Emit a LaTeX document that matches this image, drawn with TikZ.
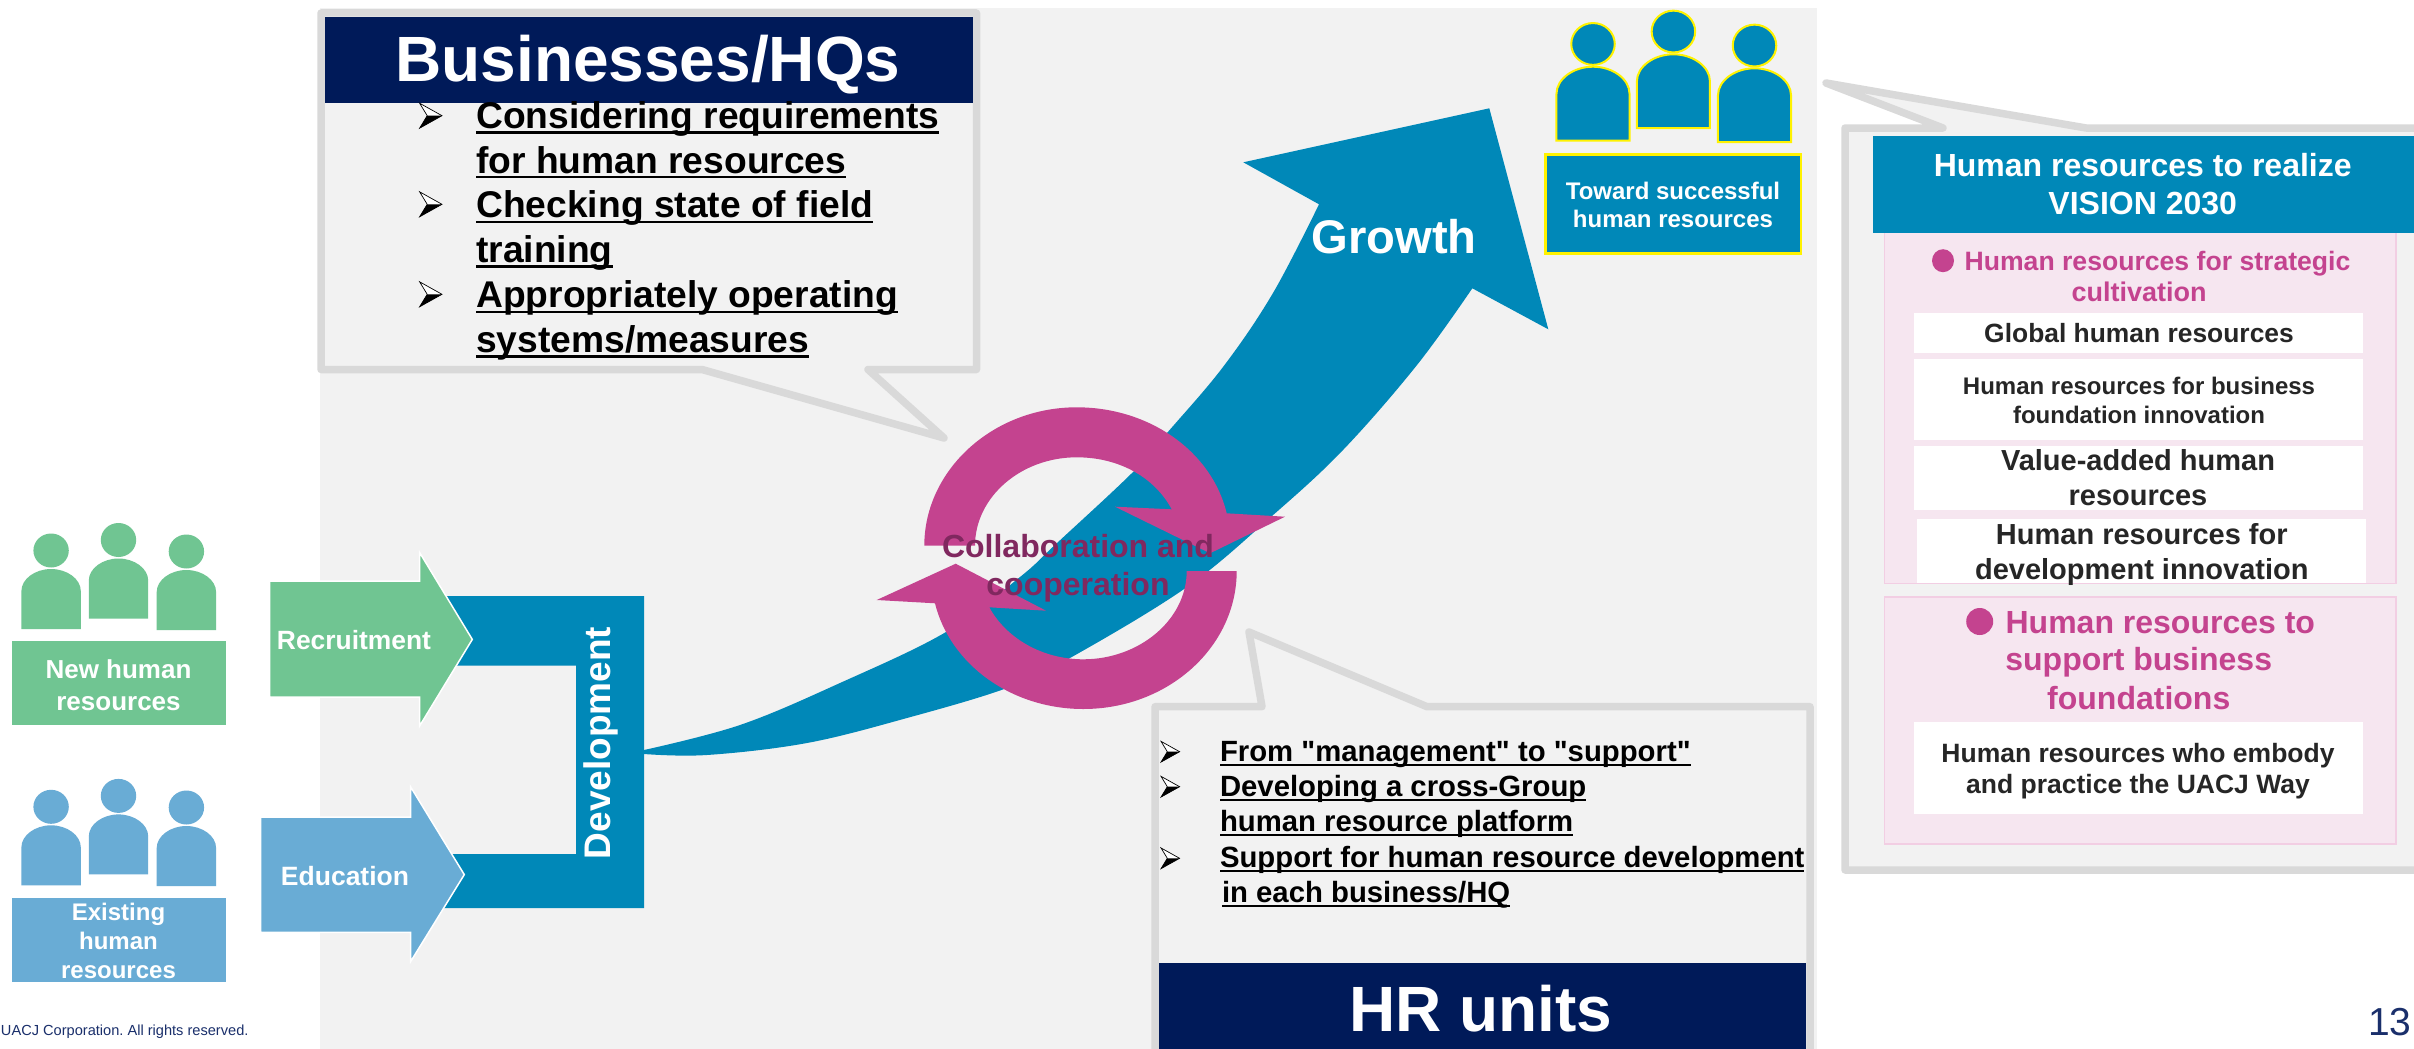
\documentclass[tikz,border=0pt]{standalone}
\usepackage{fontspec}
\setmainfont{Liberation Sans}[Ligatures=TeXOff]
\frenchspacing
\definecolor{teal}{HTML}{0088B8}
\definecolor{grn}{HTML}{70C592}
\definecolor{sky}{HTML}{69ACD5}
\definecolor{mag}{HTML}{C4438F}
\definecolor{dmag}{HTML}{80285F}
\definecolor{navy}{HTML}{001A59}
\definecolor{edge}{HTML}{D9D9D9}
\definecolor{panel}{HTML}{F2F2F2}
\definecolor{pinkf}{HTML}{F6E6F0}
\definecolor{pinkb}{HTML}{F2CEE3}
\definecolor{ink}{HTML}{262626}
\definecolor{foot}{HTML}{1A2F6B}
\newcommand\fs[2]{\fontsize{#1}{#2}\selectfont}
\newcommand\ulx[1]{\leavevmode\setbox0\hbox{#1}\rlap{\raisebox{-5pt}{\rule{\wd0}{2.4pt}}}\box0}
\newcommand\ulh[1]{\leavevmode\setbox0\hbox{#1}\rlap{\raisebox{-4.5pt}{\rule{\wd0}{2pt}}}\box0}
\newcommand\person[4]{\begin{scope}[shift={(#1,#2)},scale=#3]
\path[#4] (0,-18.5) ellipse [x radius=17.7pt, y radius=17pt];
\path[#4] (-29.7,60) -- (-29.7,22) .. controls (-29.7,10) and (-16,0) .. (0,0) .. controls (16,0) and (29.7,10) .. (29.7,22) -- (29.7,60) -- cycle;
\end{scope}}
\newcommand\tipbullet[3]{\begin{scope}[shift={(#1,#2)},scale=#3]
\fill[white] (0,-12.5) -- (22.4,0) -- (7.6,0) -- cycle;
\fill[black] (0,12.5) -- (22.4,0) -- (7.6,0) -- cycle;
\draw[black,line width=0.7pt,line join=miter] (7.6,0) -- (0,-12.5) -- (22.4,0) -- (0,12.5) -- cycle;
\end{scope}}
\tikzset{
 x=1pt,y=-1pt,
 txt/.style={inner sep=0pt,outer sep=0pt,anchor=base,align=center},
 lft/.style={inner sep=0pt,outer sep=0pt,anchor=base west,align=left},
 white text/.style={text=white,font=\bfseries\fs{#1}{#1}},
 callout/.style={draw=edge,fill=panel,line width=7.5pt,line join=round},
 gfig/.style={fill=grn},
 bfig/.style={fill=sky},
 tfig/.style={fill=teal,draw=yellow,line width=2pt},
 bigarrow/.style={draw=white,line width=1.5pt},
 whitebox/.style={fill=white},
 pinkbox/.style={fill=pinkf,draw=pinkb,line width=1.8pt},
}
\begin{document}
\begin{tikzpicture}
\useasboundingbox (0,0) rectangle (2414,1049);
\clip (0,0) rectangle (2414,1049);
\fill[white] (0,0) rectangle (2414,1049);
\fill[panel] (320,8) rectangle (1817,1049);

% growth arrow
\fill[teal] plot[smooth,tension=0.6] coordinates {(644,750) (740,725) (840,683) (946,632) (1020,577) (1057,543) (1133,472) (1167,433) (1223,367) (1273,293) (1319,204.3)}
 -- (1243.3,162.3) -- (1489.3,108.3) -- (1548.3,329.3) -- (1472.3,288.3)
 -- plot[smooth,tension=0.6] coordinates {(1472.3,288.3) (1417,365) (1343,450) (1272,516) (1187,587) (1070,658) (1007,688) (907,718) (807,743) (707,755) (644,754)} -- cycle;
% development U
\fill[teal] (440,596) -- (644,596) -- (644,908) -- (440,908) -- (440,854) -- (576,854) -- (576,665.6) -- (440,665.6) -- cycle;
\node[txt,rotate=90,text=white,font=\bfseries\fs{37}{37}] (development) at (610.7,743) {Development};
\node[txt,white text=47.2] (growth) at (1394,253.3) {Growth};

% left groups
\person{51.1}{569}{1}{gfig}\person{118.5}{558.5}{1}{gfig}\person{186.4}{570}{1}{gfig}
\person{51.1}{825.3}{1}{bfig}\person{118.5}{814.4}{1}{bfig}\person{186.4}{826}{1}{bfig}
\fill[grn] (12,641) rectangle (225.5,725);
\node[txt,white text=26] (newhr) at (118.5,678) {New human};
\node[txt,white text=26] (newhrb) at (118.5,710) {resources};
\fill[sky] (12,898) rectangle (225.5,982);
\node[txt,white text=24] (ex1) at (118.5,920) {Existing};
\node[txt,white text=24] (ex2) at (118.5,949) {human};
\node[txt,white text=24] (ex3) at (118.5,978) {resources};

% input arrows
\path[bigarrow,fill=grn] (269.6,581) -- (419.6,581) -- (419.6,552.5) -- (472.3,639.4) -- (419.6,726) -- (419.6,697) -- (269.6,697) -- cycle;
\node[txt,white text=26.4] (recruit) at (354,649.5) {Recruitment};
\path[bigarrow,fill=sky] (260.7,817) -- (410.7,817) -- (410.7,787) -- (464.3,874.6) -- (410.7,961.5) -- (410.7,932.4) -- (260.7,932.4) -- cycle;
\node[txt,white text=26.5] (educ) at (345,885) {Education};

% Businesses callout
\path[callout] (321,13) -- (976.5,13) -- (976.5,369.5) -- (868,369.5) -- (944,438) -- (702,369.5) -- (321,369.5) -- cycle;
\fill[navy] (324.5,17.3) rectangle (973,102.7);
\node[txt,white text=64] (biz) at (648,81.7) {Businesses/HQs};
\tipbullet{419.6}{115.7}{1}
\tipbullet{419.6}{204.3}{1}
\tipbullet{419.6}{294.3}{1}
\node[lft,font=\bfseries\fs{37.2}{44.8}] (t1) at (476.3,173.3) {\ulx{Considering requirements}\\\ulx{for human resources}};
\node[lft,font=\bfseries\fs{37.2}{44.8}] (t2) at (476.3,262.7) {\ulx{Checking state of field}\\\ulx{training}};
\node[lft,font=\bfseries\fs{37.2}{44.8}] (t3) at (476.3,352.7) {\ulx{Appropriately operating}\\\ulx{systems/measures}};

% HR callout
\path[callout] (1155,1070) -- (1155,706.7) -- (1262,706.7) -- (1249,632) -- (1427,706.7) -- (1810,706.7) -- (1810,1070);
\fill[navy] (1158.6,962.7) rectangle (1806,1049);
\node[txt,white text=64] (hr) at (1481,1031.7) {HR units};
\tipbullet{1161}{751.7}{0.83}
\tipbullet{1161}{786.7}{0.83}
\tipbullet{1161}{858.3}{0.83}
\node[lft,font=\bfseries\fs{29.3}{35}] (u1) at (1220,761.7) {\ulh{From "management" to "support"}};
\node[lft,font=\bfseries\fs{29.3}{35}] (u2) at (1220,831.7) {\ulh{Developing a cross-Group}\\\ulh{human resource platform}};
\node[lft,font=\bfseries\fs{29.3}{35}] (u3) at (1220,867.3) {\ulh{Support for human resource development}};
\node[lft,font=\bfseries\fs{29.3}{35}] (u4) at (1222,902.7) {\ulh{in each business/HQ}};

% ring
\fill[mag] (924.3,545.7) .. controls (924.3,470) and (993,407.3) .. (1076.7,407.3) .. controls (1150,407.3) and (1212,452) .. (1226.7,513.3) -- (1285,516.7) -- (1210,553.3) -- (1115,506.7) -- (1171.7,509.3) .. controls (1155,478) and (1120,457.3) .. (1076.7,457.3) .. controls (1021,457.3) and (975,497) .. (975,545.7) -- cycle;
\fill[mag] (1236.7,571) .. controls (1236.7,647) and (1168,709) .. (1083.3,709) .. controls (1011,709) and (950,664) .. (935,603.3) -- (876.7,600) -- (955.7,563.7) -- (1046,610.7) -- (989.3,607.3) .. controls (1006,638) and (1042,659.3) .. (1083.3,659.3) .. controls (1139,659.3) and (1186.7,620) .. (1186.7,571) -- cycle;
\node[txt,text=dmag,font=\bfseries\fs{32}{38}] (collab) at (1078,557.5) {Collaboration and};
\node[txt,text=dmag,font=\bfseries\fs{32}{38}] (coop) at (1078,595.5) {cooperation};

% top right group
\person{1593}{66.7}{1.23}{tfig}\person{1673.4}{54.3}{1.23}{tfig}\person{1754.5}{68.3}{1.23}{tfig}
\path[tfig,line width=2.5pt] (1545.5,154.3) rectangle (1800.8,253.3);
\node[txt,white text=24] (tw1) at (1673,199) {Toward successful};
\node[txt,white text=24] (tw2) at (1673,227.3) {human resources};

% Vision callout
\path[callout] (2430,128) -- (2086,128) -- (1826,83) -- (1943,128) -- (1845,128) -- (1845,870) -- (2430,870);
\path[pinkbox] (1884.5,232) rectangle (2396,583.4);
\path[pinkbox] (1884.5,596.8) rectangle (2396,844);
\fill[teal] (1873,136) rectangle (2414,232.7);
\node[txt,white text=32] (v1) at (2142.7,176) {Human resources to realize};
\node[txt,white text=32] (v2) at (2142.7,214) {VISION 2030};

\fill[mag] (1943,260.7) ellipse [x radius=11pt, y radius=11.5pt];
\node[lft,text=mag,font=\bfseries\fs{26.6}{27}] (s1) at (1964.6,270) {Human resources for strategic};
\node[txt,text=mag,font=\bfseries\fs{27}{27}] (s2) at (2139,301.7) {cultivation};

\fill[whitebox] (1913.9,313.3) rectangle (2362.7,352.7);
\node[txt,text=ink,font=\bfseries\fs{26.4}{26.4}] (g1) at (2139,342.7) {Global human resources};
\fill[whitebox] (1913.9,359) rectangle (2362.7,440);
\node[txt,text=ink,font=\bfseries\fs{24}{24}] (g2a) at (2139,394.3) {Human resources for business};
\node[txt,text=ink,font=\bfseries\fs{24}{24}] (g2b) at (2139,423.3) {foundation innovation};
\fill[whitebox] (1913.9,446) rectangle (2362.7,510);
\node[txt,text=ink,font=\bfseries\fs{29}{29}] (g3a) at (2138,470.7) {Value-added human};
\node[txt,text=ink,font=\bfseries\fs{29}{29}] (g3b) at (2138,505.4) {resources};
\fill[whitebox] (1917,518.8) rectangle (2365.8,582.7);
\node[txt,text=ink,font=\bfseries\fs{29}{29}] (g4a) at (2141.8,544.6) {Human resources for};
\node[txt,text=ink,font=\bfseries\fs{29}{29}] (g4b) at (2141.8,579.8) {development innovation};

\fill[mag] (1979.7,621.5) circle [radius=13.5pt];
\node[lft,text=mag,font=\bfseries\fs{32}{32}] (p1) at (2005.6,633) {Human resources to};
\node[txt,text=mag,font=\bfseries\fs{32}{32}] (p2) at (2138.7,670.5) {support business};
\node[txt,text=mag,font=\bfseries\fs{32}{32}] (p3) at (2138.7,709.7) {foundations};
\fill[whitebox] (1914,722) rectangle (2363,813.8);
\node[txt,text=ink,font=\bfseries\fs{26.5}{26.5}] (w1) at (2138,762) {Human resources who embody};
\node[txt,text=ink,font=\bfseries\fs{26.5}{26.5}] (w2) at (2138,793.9) {and practice the UACJ Way};

% footer
\node[lft,text=foot,font=\fs{14.6}{14.6}] (copy) at (1,1035.7) {UACJ Corporation. All rights reserved.};
\node[lft,text=foot,font=\fs{39}{39}] (page) at (2368,1035.9) {13};
\end{tikzpicture}
\end{document}
